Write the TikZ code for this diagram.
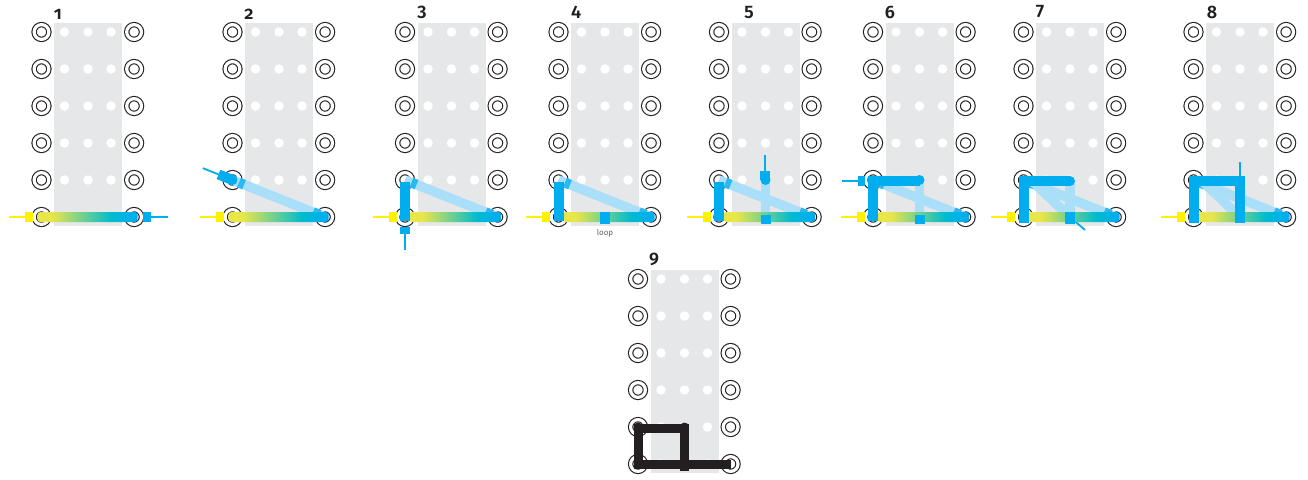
\documentclass[tikz,border=0pt]{standalone}
\usepackage{fontspec}
\setmainfont{Fira Sans}
\newfontfamily\stepfont[Numbers=OldStyle]{Fira Sans SemiBold}
\usetikzlibrary{calc}
\definecolor{traceblue}{HTML}{00AEEF}
\definecolor{ghostblue}{HTML}{A9DFF8}
\definecolor{feedyellow}{HTML}{FFF200}
\definecolor{stripyellow}{HTML}{E9E64B}
\definecolor{stripteal}{HTML}{00BBCF}
\definecolor{boardgrey}{HTML}{E6E7E8}
\definecolor{padink}{HTML}{231F20}
\pgfdeclarehorizontalshading{stripshade}{100bp}{
  color(0bp)=(stripyellow); color(32bp)=(stripyellow);
  color(62bp)=(stripteal); color(72bp)=(traceblue); color(100bp)=(traceblue)}
\newcommand\probe[6]{
  \draw[#1wire] ([shift={(#3:#5pt)}]#2) -- ([shift={(#3:#6pt)}]#2);
  \draw[#1tab] ([shift={(#3:#4pt)}]#2) -- ([shift={(#3:#5pt)}]#2);
}
\newcommand\stripbar[2][4.5pt]{
  \shade[stripbar] ([xshift=#1,yshift=-5pt]b#2-l-6.center) rectangle ([xshift=3.5pt,yshift=5pt]b#2-r-6.center);
}
\newcommand\diagbar[1]{
  \draw[ghostbar] (b#1-l-5.center) -- (b#1-r-6.center);
  \draw[bluetab,draw=traceblue!75!ghostblue] ($(b#1-l-5.center)!.07!(b#1-r-6.center)$) -- ($(b#1-l-5.center)!.125!(b#1-r-6.center)$);
  \draw[bluetab,draw=traceblue!75!ghostblue] ($(b#1-l-5.center)!.87!(b#1-r-6.center)$) -- ($(b#1-l-5.center)!.94!(b#1-r-6.center)$);
}
\begin{document}
\begin{tikzpicture}[
    x=1pt,y=-1pt,
    pad/.style={circle,draw=padink,double=white,double distance=3.2pt,line width=1.1pt,
      fill=white,minimum size=14.8pt,inner sep=0pt},
    hole/.style={circle,fill=white,minimum size=9.5pt,inner sep=0pt},
    steplabel/.style={font=\stepfont\fontsize{18}{18}\selectfont,text=padink,inner sep=0pt},
    stripbar/.style={shading=stripshade,rounded corners=3pt},
    ghostbar/.style={draw=ghostblue,line width=9.5pt},
    bluetab/.style={draw=traceblue,line width=10pt},
    bluewire/.style={draw=traceblue,line width=1.8pt},
    yellowtab/.style={draw=feedyellow,line width=10pt},
    yellowwire/.style={draw=feedyellow,line width=1.8pt},
    bluetrace/.style={draw=traceblue,line width=10pt,line join=miter},
    inktrace/.style={draw=padink,line width=9pt,line join=miter},
    bluedot/.style={fill=traceblue},
    inkdot/.style={fill=padink}
  ]
    \useasboundingbox (0,0) rectangle (1308,479);
    \foreach \n/\x/\y/\lx/\ly in {1/41.5/32/58/14,2/232.5/32/249/14,3/405/32/422/12,4/558.5/32/576/12,
        5/719/32/749/12,6/873/32/890/12,7/1023.5/32/1040/12,8/1193.5/32/1212/12,9/638/279/654/259}{
      \fill[boardgrey] (\x+12.5,\y-9) rectangle (\x+80.5,\y+194);
      \node[steplabel] (b\n-title) at (\lx,\ly) {\n};
      \foreach \r in {1,...,6}{
        \node[pad] (b\n-l-\r) at (\x,\y+37*\r-37) {};
        \node[pad] (b\n-r-\r) at (\x+92.6,\y+37*\r-37) {};
        \node[hole] (b\n-h1-\r) at (\x+23,\y+37*\r-37) {};
        \node[hole] (b\n-h2-\r) at (\x+46.5,\y+37*\r-37) {};
        \node[hole] (b\n-h3-\r) at (\x+69.5,\y+37*\r-37) {};
      }
    }
    \foreach \n in {1,...,8}{
      \probe{yellow}{b\n-l-6.center}{180}{8.5}{16.5}{32.5}
    }

    % 1
    \probe{blue}{b1-r-6.center}{0}{9}{16.5}{33.5}
    \stripbar[-4pt]{1}

    % 2
    \diagbar{2}
    \stripbar[-4pt]{2}
    \probe{blue}{b2-l-5.center}{158.2}{0}{15}{32}
    \fill[bluedot] (b2-l-5.center) circle[radius=5pt];

    % 3
    \diagbar{3}
    \stripbar{3}
    \draw[bluetrace] ([yshift=-4pt]b3-l-6.center) -- ([yshift=-2pt]b3-l-5.center);
    \probe{blue}{b3-l-6.center}{270}{9.5}{16.5}{32.5}

    % 4
    \diagbar{4}
    \stripbar{4}
    \draw[bluetrace] ([yshift=-4pt]b4-l-6.center) -- ([yshift=-2pt]b4-l-5.center);
    \draw[bluetab] ([yshift=-7pt]b4-h2-6.center) -- ([yshift=5pt]b4-h2-6.center);
    \node[text=padink!70,font=\fontsize{8}{8}\selectfont,inner sep=0pt] (b4-loop) at (605,233) {loop};

    % 5
    \coordinate (b5-top) at ([xshift=-.3pt]b5-h2-5.center);
    \diagbar{5}
    \draw[ghostbar] (b5-h2-5.center) -- (b5-h2-6.center);
    \stripbar{5}
    \draw[bluetrace] ([yshift=-4pt]b5-l-6.center) -- ([yshift=-2pt]b5-l-5.center);
    \draw[bluetab] ([yshift=-7pt]b5-h2-6.center) -- ([yshift=2pt]b5-h2-6.center);
    \probe{blue}{b5-top}{90}{0}{9}{25}
    \fill[bluedot] (b5-h2-5.center) circle[radius=5pt];

    % 6
    \coordinate (b6-corner) at ([yshift=-1pt]b6-l-5.center);
    \coordinate (b6-end) at ([yshift=-1pt]b6-h2-5.center);
    \diagbar{6}
    \draw[ghostbar] (b6-h2-5.center) -- (b6-h2-6.center);
    \stripbar{6}
    \draw[bluetab] ([yshift=-7pt]b6-h2-6.center) -- ([yshift=2pt]b6-h2-6.center);
    \probe{blue}{b6-corner}{180}{8}{15}{31}
    \draw[bluetrace] ([yshift=-4pt]b6-l-6.center) |- (b6-end);
    \fill[bluedot] (b6-h2-5.center) circle[radius=5pt];

    % 7
    \coordinate (b7-end) at ([yshift=-1pt]b7-h2-5.center);
    \coordinate (b7-start) at ([xshift=7.5pt]b7-l-5.center);
    \coordinate (b7-exit) at (1085,230);
    \diagbar{7}
    \draw[ghostbar] (b7-h2-5.center) -- (b7-h2-6.center);
    \draw[ghostbar] (b7-start) -- (b7-h2-6.center);
    \draw[bluewire] (b7-h2-6.center) -- (b7-exit);
    \stripbar{7}
    \draw[bluetab] ([yshift=-7pt]b7-h2-6.center) -- ([yshift=5pt]b7-h2-6.center);
    \draw[bluetrace] ([yshift=-6pt]b7-l-6.center) |- (b7-end);
    \fill[bluedot] (b7-end) circle[radius=5pt];

    % 8
    \coordinate (b8-end) at ([yshift=-1pt]b8-h2-5.center);
    \coordinate (b8-start) at ([xshift=7.5pt]b8-l-5.center);
    \diagbar{8}
    \draw[ghostbar] (b8-start) -- (b8-h2-6.center);
    \stripbar{8}
    \probe{blue}{b8-h2-5.center}{90}{0}{3}{18}
    \draw[bluetrace] ([yshift=-6pt]b8-l-6.center) |- (b8-end) -- ([yshift=-6pt]b8-h2-6.center);

    % 9
    \coordinate (b9-end) at ([yshift=-1pt]b9-h2-5.center);
    \draw[inktrace] (b9-l-6.center) -- (b9-r-6.center);
    \draw[inktrace] ([yshift=-5pt]b9-l-6.center) |- (b9-end) -- ([yshift=-6.5pt]b9-h2-6.center);
    \fill[inkdot] (b9-l-5.center) circle[radius=4.5pt];
    \fill[inkdot] (b9-h2-5.center) circle[radius=4.5pt];
\end{tikzpicture}
\end{document}
